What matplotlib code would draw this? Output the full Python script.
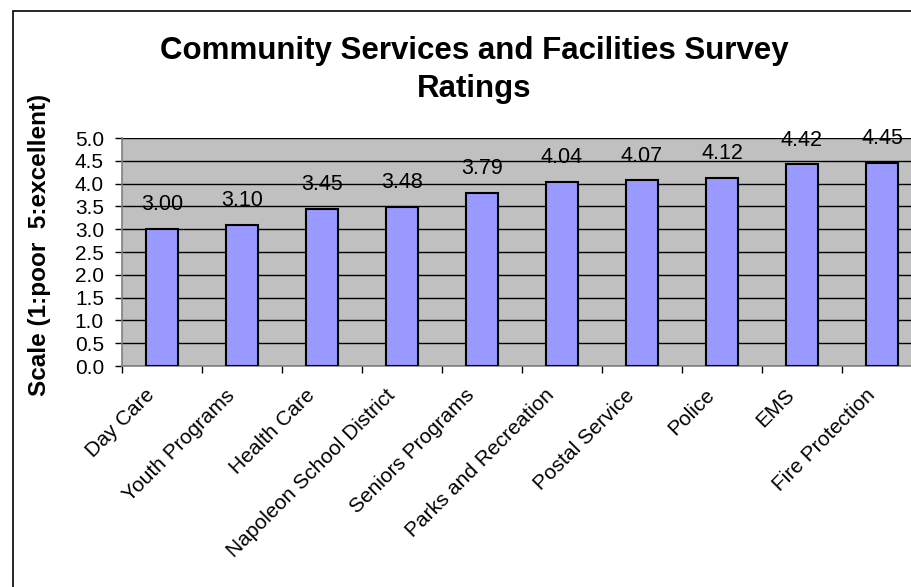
import numpy as np
import matplotlib.pyplot as plt
from matplotlib.patches import Rectangle
from matplotlib.transforms import ScaledTranslation

plt.rcParams['font.family'] = ['Liberation Sans', 'DejaVu Sans']

# Survey results, lowest to highest rating
services = ["Day Care", "Youth Programs", "Health Care", "Napoleon School District",
            "Seniors Programs", "Parks and Recreation", "Postal Service", "Police",
            "EMS", "Fire Protection"]
ratings = [3.00, 3.10, 3.45, 3.48, 3.79, 4.04, 4.07, 4.12, 4.42, 4.45]
y_ticks = [0.0, 0.5, 1.0, 1.5, 2.0, 2.5, 3.0, 3.5, 4.0, 4.5, 5.0]

fig = plt.figure(figsize=(9.12, 5.87), dpi=100)

# chart frame
fig.patches.append(Rectangle((13 / 912, -0.1), 1.2, 1.1 - 10.5 / 587,
                             transform=fig.transFigure, fill=False,
                             edgecolor="black", linewidth=1.2))

ax = fig.add_axes([122 / 912, 1 - 366 / 587, 800 / 912, 228 / 587])
ax.set_facecolor("#C0C0C0")

x = np.arange(len(services))
ax.bar(x, ratings, width=0.4, color="#9999FF", edgecolor="black",
       linewidth=1.5, zorder=3)

for xi, r in zip(x, ratings):
    ax.annotate(f"{r:.2f}", (xi, r), xytext=(0, 10), textcoords="offset points",
                ha="center", va="bottom", fontsize=15.5, annotation_clip=False)

ax.set_xlim(-0.5, len(services) - 0.5)
ax.set_ylim(0, 5)
ax.set_yticks(y_ticks)
ax.set_yticklabels([f"{v:.1f}" for v in y_ticks], fontsize=15)
ax.yaxis.grid(True, color="black", linewidth=1.0, zorder=1)
ax.set_axisbelow(True)

ax.set_xticks(x)
ax.set_xticklabels(services, fontsize=15, rotation=45, ha="right",
                   rotation_mode="anchor", va="top")
ax.set_xticks(np.arange(len(services) + 1) - 0.5, minor=True)
ax.tick_params(axis="x", which="major", length=0, pad=12)
ax.tick_params(axis="x", which="minor", length=5, width=1, direction="out")
ax.tick_params(axis="y", length=5, width=1, direction="out", pad=8)

# shift the slanted category names so they end left of each bar
shift = ScaledTranslation(-17 / 100, -3 / 100, fig.dpi_scale_trans)
for lbl in ax.get_xticklabels():
    lbl.set_transform(lbl.get_transform() + shift)

for side in ["top", "right"]:
    ax.spines[side].set_visible(False)
ax.spines["left"].set_color("#808080")
ax.spines["bottom"].set_color("#808080")
ax.spines["left"].set_linewidth(1.2)
ax.spines["bottom"].set_linewidth(1.2)

fig.text(40 / 912, 1 - 245 / 587, "Scale (1:poor  5:excellent)", rotation=90,
         ha="center", va="center", fontsize=17.5, fontweight="bold")

fig.text(474 / 912, 1 - 36 / 587,
         "Community Services and Facilities Survey\nRatings",
         ha="center", va="top", fontsize=22.5, fontweight="bold", linespacing=1.35)

fig.savefig("out.png", dpi=100)
